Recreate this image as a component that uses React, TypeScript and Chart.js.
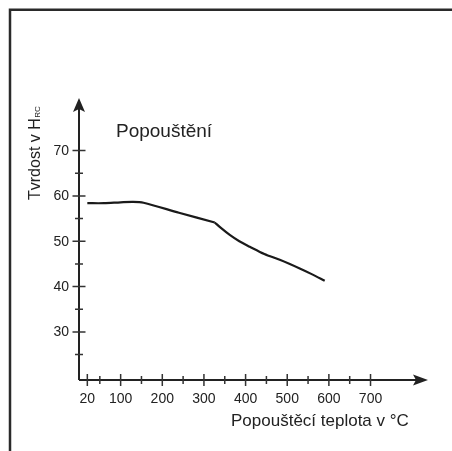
import React, { useEffect, useRef } from "react";
import { Chart, registerables } from "chart.js";

Chart.register(...registerables);

const temperatures = [20, 60, 100, 130, 155, 240, 326, 340, 362, 385, 410, 445, 482, 530, 560, 590];
const hardness = [58.4, 58.4, 58.6, 58.7, 58.5, 56.3, 54.15, 53.0, 51.4, 50.0, 48.8, 47.2, 45.9, 44.0, 42.7, 41.3];
const kinkIndex = 6;

const xMajorTicks = [20, 100, 200, 300, 400, 500, 600, 700];
const xMinorTicks = [50, 150, 250, 350, 450, 550, 650];
const yMajorTicks = [30, 40, 50, 60, 70];
const yMinorTicks = [25, 35, 45, 55, 65];

const chartTitle = "Popouštění";
const xTitle = "Popouštěcí teplota v °C";
const yTitleMain = "Tvrdost v H";
const yTitleSub = "RC";

const FONT = '"Liberation Sans", Arial, sans-serif';
const INK = "#222";

const axesPlugin = {
  id: "customAxes",
  beforeDatasetsDraw(chart: any) {
    const ctx = chart.ctx as CanvasRenderingContext2D;
    const xs = chart.scales.x;
    const ys = chart.scales.y;
    const area = chart.chartArea;
    const x0 = area.left;
    const y0 = area.bottom;
    ctx.save();

    // outer frame
    ctx.strokeStyle = "#2a2a2a";
    ctx.lineWidth = 2.5;
    ctx.beginPath();
    ctx.moveTo(10, chart.height);
    ctx.lineTo(10, 9.75);
    ctx.lineTo(chart.width, 9.75);
    ctx.stroke();

    // axes lines
    ctx.strokeStyle = INK;
    ctx.lineWidth = 2;
    ctx.beginPath();
    ctx.moveTo(x0, y0);
    ctx.lineTo(x0, area.top + 10);
    ctx.moveTo(x0, y0);
    ctx.lineTo(area.right - 10, y0);
    ctx.stroke();

    // arrows
    ctx.fillStyle = INK;
    ctx.beginPath();
    ctx.moveTo(x0, area.top);
    ctx.lineTo(x0 - 6, area.top + 14);
    ctx.lineTo(x0, area.top + 11);
    ctx.lineTo(x0 + 6, area.top + 14);
    ctx.closePath();
    ctx.fill();
    ctx.beginPath();
    ctx.moveTo(area.right, y0);
    ctx.lineTo(area.right - 15, y0 - 5.5);
    ctx.lineTo(area.right - 12, y0);
    ctx.lineTo(area.right - 15, y0 + 5.5);
    ctx.closePath();
    ctx.fill();

    // ticks
    ctx.lineWidth = 1.5;
    ctx.strokeStyle = "#333";
    ctx.beginPath();
    xMajorTicks.forEach((v) => {
      const p = xs.getPixelForValue(v);
      ctx.moveTo(p, y0 - 6);
      ctx.lineTo(p, y0 + 6);
    });
    xMinorTicks.forEach((v) => {
      const p = xs.getPixelForValue(v);
      ctx.moveTo(p, y0 - 4);
      ctx.lineTo(p, y0 + 4);
    });
    yMajorTicks.forEach((v) => {
      const p = ys.getPixelForValue(v);
      ctx.moveTo(x0 - 6.5, p);
      ctx.lineTo(x0 + 6.5, p);
    });
    yMinorTicks.forEach((v) => {
      const p = ys.getPixelForValue(v);
      ctx.moveTo(x0 - 4, p);
      ctx.lineTo(x0 + 4, p);
    });
    ctx.stroke();

    // tick labels
    ctx.fillStyle = INK;
    ctx.font = `14px ${FONT}`;
    ctx.textAlign = "center";
    ctx.textBaseline = "alphabetic";
    xMajorTicks.forEach((v) => {
      ctx.fillText(String(v), xs.getPixelForValue(v), y0 + 22.5);
    });
    ctx.textAlign = "right";
    ctx.textBaseline = "middle";
    yMajorTicks.forEach((v) => {
      ctx.fillText(String(v), x0 - 10, ys.getPixelForValue(v) + 0.5);
    });

    // x title
    ctx.textAlign = "left";
    ctx.textBaseline = "alphabetic";
    ctx.font = `17px ${FONT}`;
    ctx.fillText(xTitle, 231, y0 + 46);

    // y title (rotated)
    ctx.save();
    ctx.translate(40, 200);
    ctx.rotate(-Math.PI / 2);
    ctx.font = `16px ${FONT}`;
    ctx.textAlign = "left";
    ctx.fillText(yTitleMain, 0, 0);
    const w = ctx.measureText(yTitleMain).width;
    ctx.font = `8px ${FONT}`;
    ctx.fillText(yTitleSub, w + 0.5, 0);
    ctx.restore();

    // chart title
    ctx.font = `19px ${FONT}`;
    ctx.textAlign = "left";
    ctx.fillText(chartTitle, 116, 137);

    ctx.restore();
  },
};

export default function App() {
  const canvasRef = useRef<HTMLCanvasElement | null>(null);

  useEffect(() => {
    const canvas = canvasRef.current;
    if (!canvas) return;
    const points = temperatures.map((t, i) => ({ x: t, y: hardness[i] }));
    const lineStyle = {
      borderColor: "#1a1a1a",
      borderWidth: 2.2,
      pointRadius: 0,
      tension: 0.3,
      fill: false,
    };
    const chart = new Chart(canvas, {
      type: "line",
      data: {
        datasets: [
          { ...lineStyle, data: points.slice(0, kinkIndex + 1) },
          { ...lineStyle, data: points.slice(kinkIndex) },
        ],
      },
      options: {
        responsive: false,
        animation: false,
        devicePixelRatio: 1,
        layout: { padding: { left: 79, right: 24, top: 98, bottom: 71 } },
        plugins: {
          legend: { display: false },
          tooltip: { enabled: false },
          title: { display: false },
        },
        scales: {
          x: { type: "linear", min: 0, max: 838, display: false },
          y: { type: "linear", min: 19.4, max: 81.6, display: false },
        },
      },
      plugins: [axesPlugin],
    });
    return () => chart.destroy();
  }, []);

  return (
    <div
      style={{
        position: "fixed",
        left: 0,
        top: 0,
        width: 452,
        height: 451,
        background: "#fff",
      }}
    >
      <canvas ref={canvasRef} width={452} height={451} style={{ display: "block" }} />
    </div>
  );
}
